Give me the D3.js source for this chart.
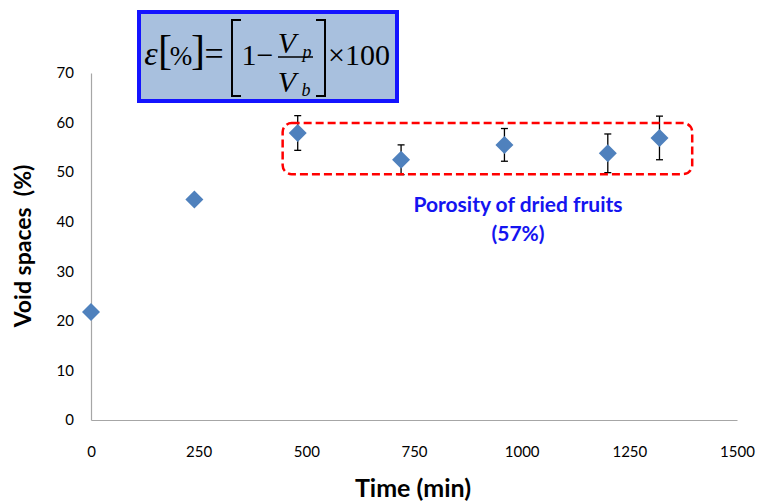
<!DOCTYPE html>
<html>
<head>
<meta charset="utf-8">
<script src="https://cdnjs.cloudflare.com/ajax/libs/d3/7.8.5/d3.min.js"></script>
<style>
  body { margin: 0; background: #fff; }
  svg text { font-family: Lato, "Open Sans", sans-serif; }
  .formula text { font-family: "Liberation Serif", "DejaVu Serif", serif; fill: #000; }
</style>
</head>
<body>
<script>
// data
const times = [0, 240, 480, 720, 960, 1200, 1320];
const voids = [21.8, 44.5, 57.9, 52.5, 55.5, 53.8, 56.9];
const errs  = [null, null, 3.5, 3.0, 3.3, 3.9, 4.4];
const xTicks = [0, 250, 500, 750, 1000, 1250, 1500];
const yTicks = [0, 10, 20, 30, 40, 50, 60, 70];
// dashed box in data units
const boxTime = [445, 1396];
const boxVoid = [49.6, 59.9];

const width = 757, height = 501;

const svg = d3.select("body").append("svg")
    .attr("width", width)
    .attr("height", height);

const x = d3.scaleLinear().domain([0, 1500]).range([91, 737]);
const y = d3.scaleLinear().domain([0, 70]).range([420, 73]);

// axes
const yAxis = svg.append("g")
    .attr("transform", `translate(${x(0)},0)`)
    .call(d3.axisLeft(y).tickValues(yTicks).tickSize(0).tickPadding(17));
const xAxis = svg.append("g")
    .attr("transform", `translate(0,${y(0)})`)
    .call(d3.axisBottom(x).tickValues(xTicks).tickFormat(d3.format("d"))
        .tickSize(0).tickPadding(26));

[xAxis, yAxis].forEach(a => {
    a.select(".domain").attr("stroke", "#a6a6a6").attr("stroke-width", 1.2);
    a.selectAll("text")
        .style("font-family", "Lato, sans-serif")
        .style("font-size", "15px")
        .attr("fill", "#000");
});

svg.append("text")
    .attr("x", 413).attr("y", 497)
    .attr("text-anchor", "middle")
    .style("font-size", "25px").style("font-weight", "bold")
    .text("Time (min)");

svg.append("text")
    .attr("transform", "translate(31,246) rotate(-90)")
    .attr("text-anchor", "middle")
    .style("font-size", "23px").style("font-weight", "bold")
    .attr("xml:space", "preserve")
    .text("Void spaces  (%)");

// error bars
const pts = times.map((t, i) => ({t: t, v: voids[i], e: errs[i]}));
const eb = svg.append("g").selectAll("g")
    .data(pts.filter(d => d.e != null))
    .enter().append("g")
    .attr("stroke", "#000").attr("stroke-width", 1.3);
eb.append("line")
    .attr("x1", d => x(d.t)).attr("x2", d => x(d.t))
    .attr("y1", d => y(d.v - d.e)).attr("y2", d => y(d.v + d.e));
eb.append("line")
    .attr("x1", d => x(d.t) - 3.5).attr("x2", d => x(d.t) + 3.5)
    .attr("y1", d => y(d.v + d.e)).attr("y2", d => y(d.v + d.e));
eb.append("line")
    .attr("x1", d => x(d.t) - 3.5).attr("x2", d => x(d.t) + 3.5)
    .attr("y1", d => y(d.v - d.e)).attr("y2", d => y(d.v - d.e));

// diamonds
const r = 9;
svg.append("g").selectAll("path")
    .data(pts)
    .enter().append("path")
    .attr("transform", d => `translate(${x(d.t)},${y(d.v)})`)
    .attr("d", `M0,${-r}L${r},0L0,${r}L${-r},0Z`)
    .attr("fill", "#4f81bd");

// dashed annotation box
svg.append("rect")
    .attr("x", x(boxTime[0]))
    .attr("y", y(boxVoid[1]))
    .attr("width", x(boxTime[1]) - x(boxTime[0]))
    .attr("height", y(boxVoid[0]) - y(boxVoid[1]))
    .attr("rx", 9)
    .attr("fill", "none")
    .attr("stroke", "#ff0000")
    .attr("stroke-width", 2.5)
    .attr("stroke-dasharray", "8,4");

svg.append("text")
    .attr("x", 518).attr("y", 212)
    .attr("text-anchor", "middle")
    .style("font-size", "21px").style("font-weight", "bold")
    .attr("fill", "#1414f0")
    .text("Porosity of dried fruits");
svg.append("text")
    .attr("x", 518).attr("y", 241)
    .attr("text-anchor", "middle")
    .style("font-size", "21px").style("font-weight", "bold")
    .attr("fill", "#1414f0")
    .text("(57%)");

// formula box
const f = svg.append("g").attr("class", "formula");
f.append("rect")
    .attr("x", 139).attr("y", 12)
    .attr("width", 258).attr("height", 89)
    .attr("fill", "#a8c0de")
    .attr("stroke", "#1414ff")
    .attr("stroke-width", 4);

function glyph(s, cx, by, size, italic) {
    f.append("text")
        .attr("x", cx).attr("y", by)
        .attr("text-anchor", "middle")
        .style("font-size", size + "px")
        .style("font-style", italic ? "italic" : "normal")
        .text(s);
}
glyph("ε", 151, 65, 34, true);
glyph("[", 165, 64, 42);
glyph("%", 181, 65, 27);
glyph("]", 198, 64, 42);
glyph("=", 214, 65, 34);
glyph("1", 249, 65, 30);
glyph("−", 265, 65, 30);
glyph("V", 287, 53, 30, true);
glyph("p", 307, 58, 18, true);
glyph("V", 287, 92, 30, true);
glyph("b", 306, 96, 18, true);

// big brackets
const br = f.append("g").attr("stroke", "#000").attr("fill", "none").attr("stroke-width", 2);
br.append("path").attr("d", "M241,20H232V96H241");
br.append("path").attr("d", "M316,20H325V96H316");

f.append("line")
    .attr("x1", 278).attr("x2", 313).attr("y1", 57).attr("y2", 57)
    .attr("stroke", "#000").attr("stroke-width", 1.3);
f.append("text").attr("x", 328).attr("y", 65)
    .style("font-size", "30px").text("×100");
</script>
</body>
</html>
